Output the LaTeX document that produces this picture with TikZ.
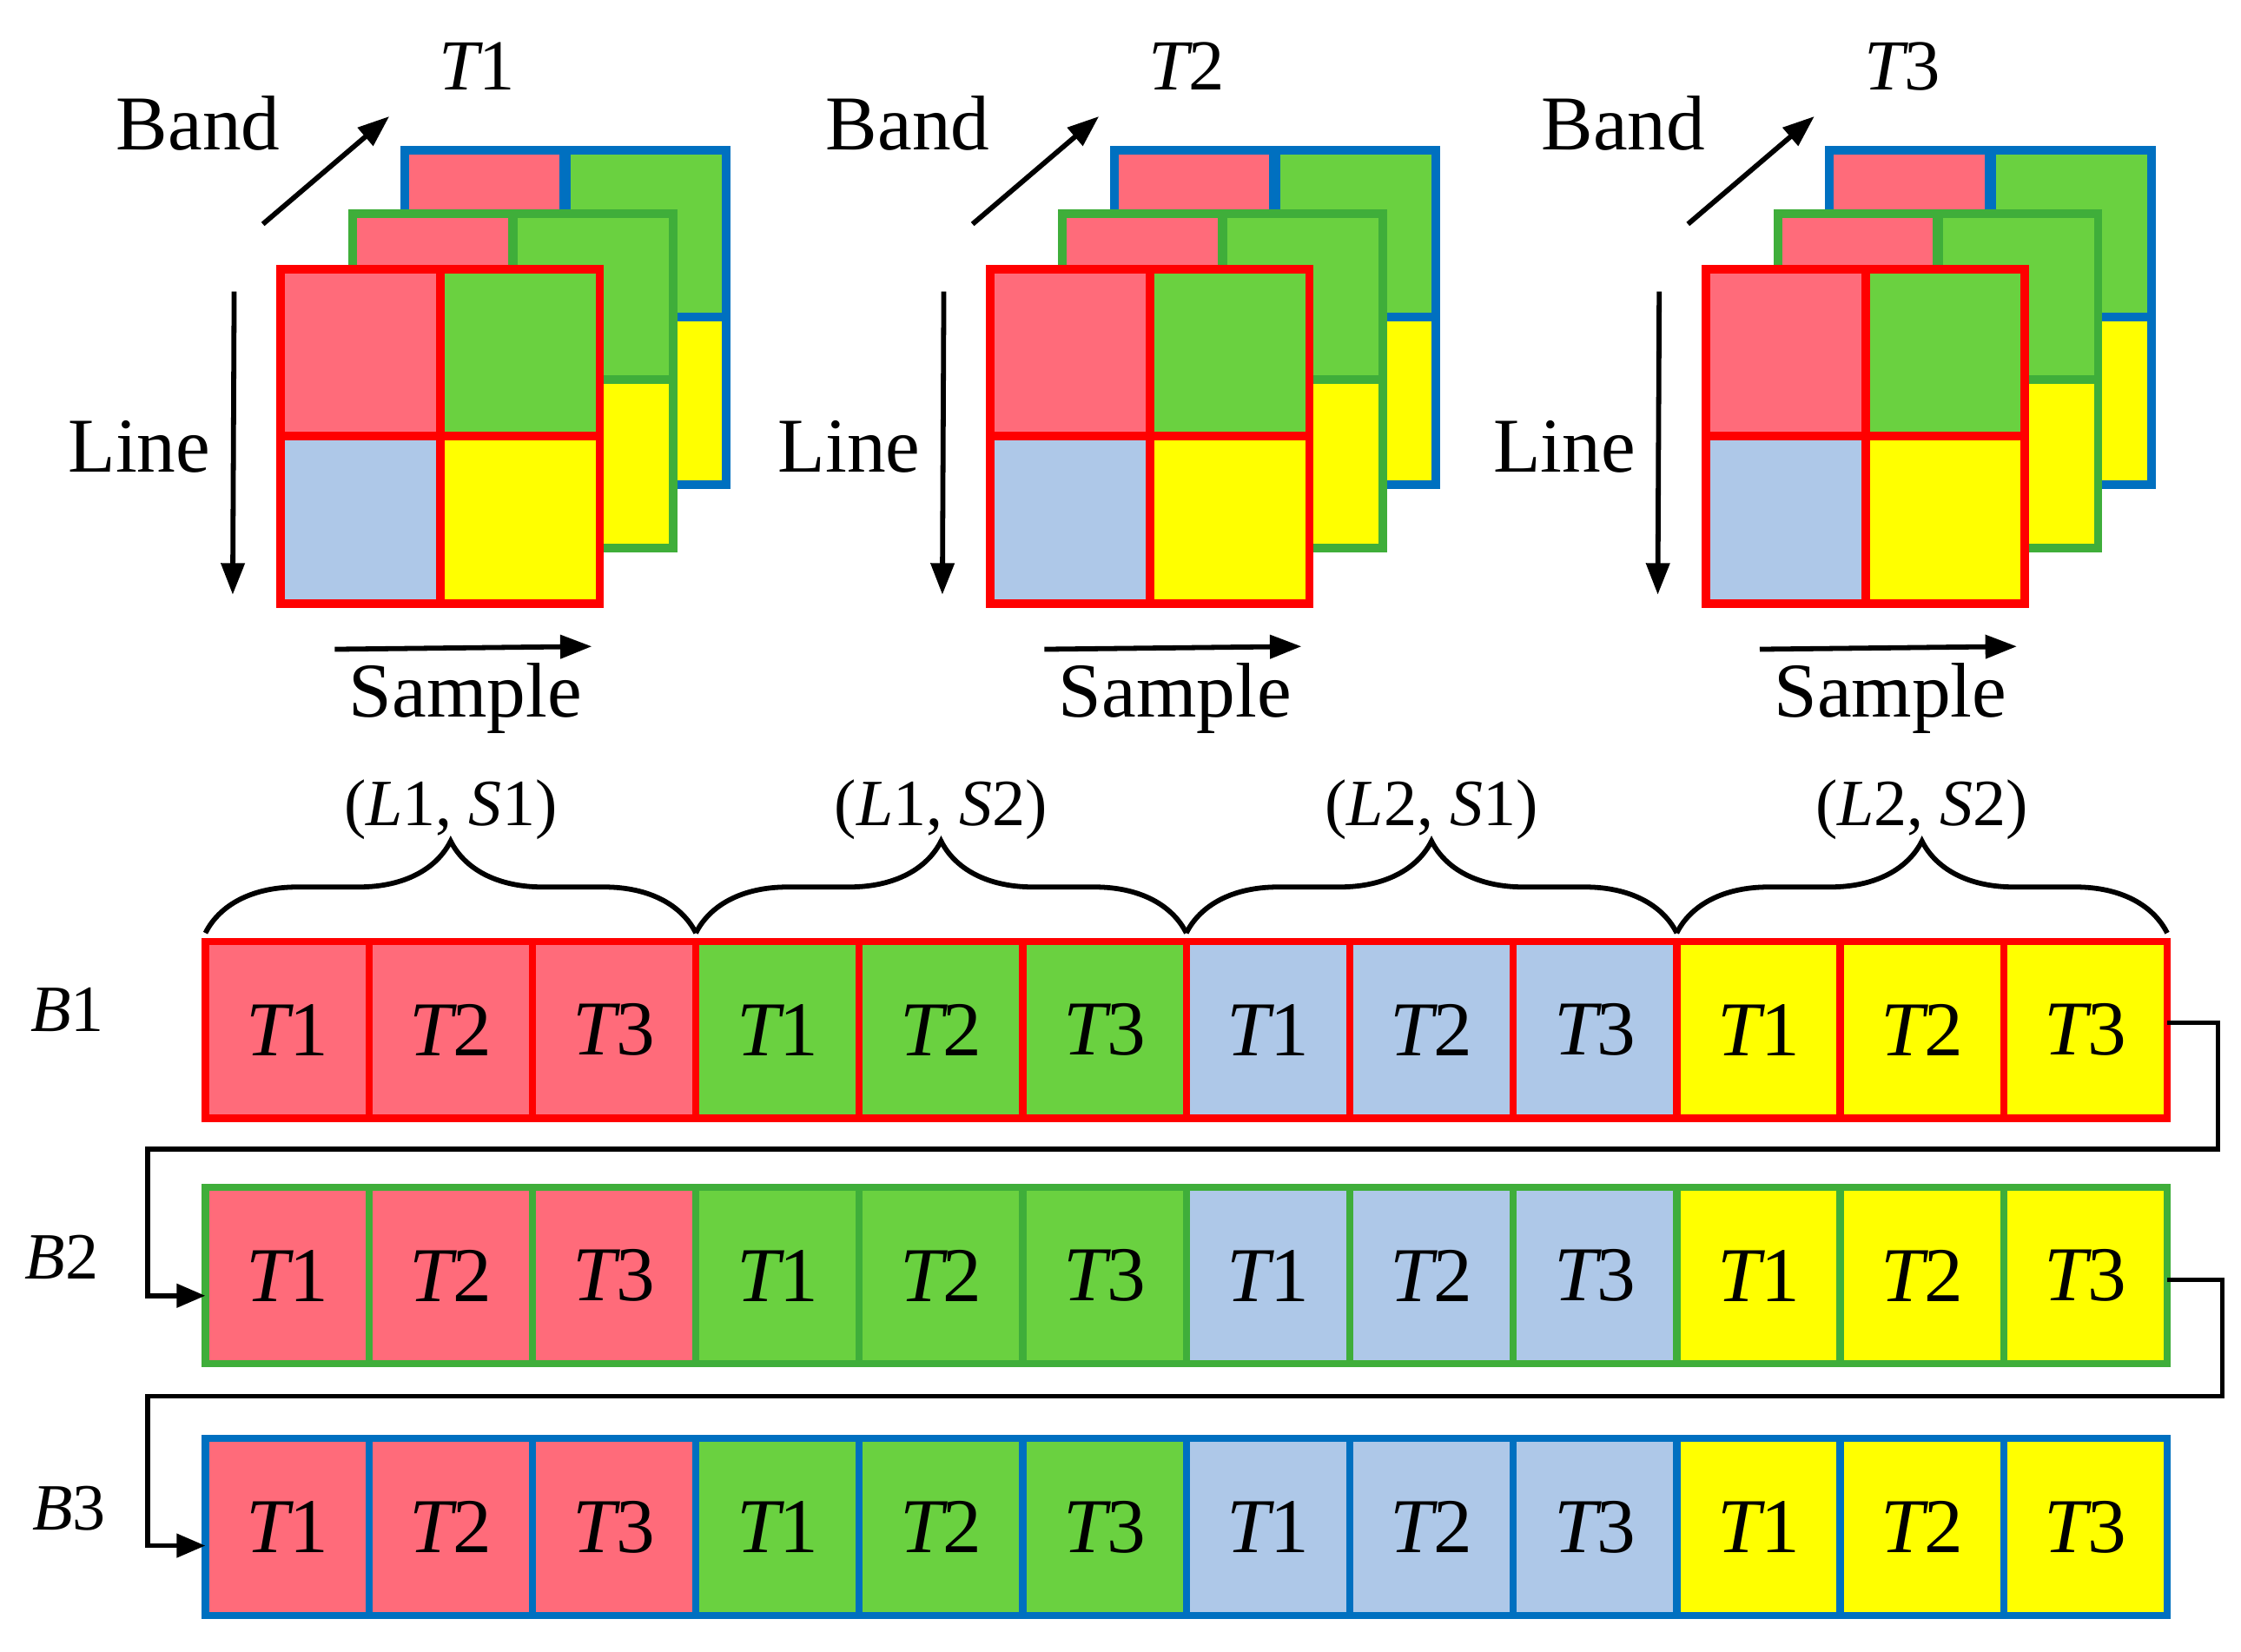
\documentclass[tikz,border=0pt]{standalone}
\usepackage{fontspec}
\setmainfont{Liberation Serif}
\usetikzlibrary{arrows.meta,decorations.pathreplacing,calc}
\definecolor{cpink}{HTML}{FF6B7A}
\definecolor{cgreen}{HTML}{6AD140}
\definecolor{cgreenb}{HTML}{3FAE3A}
\definecolor{cblue}{HTML}{AEC8E8}
\definecolor{cyel}{HTML}{FFFF00}
\definecolor{cred}{HTML}{FF0000}
\definecolor{cbb}{HTML}{0070C0}
\begin{document}
\begin{tikzpicture}[x=1pt,y=-1pt,
  cell/.style={minimum width=113.8pt,minimum height=123pt,inner sep=0,outer sep=0,line width=5pt,font=\fontsize{54}{54}\selectfont\itshape},
  q/.style={minimum width=111pt,minimum height=117pt,inner sep=0,outer sep=0,line width=6pt},
  lbl/.style={font=\fontsize{54}{54}\selectfont},
  blab/.style={font=\fontsize{46}{46}\selectfont\itshape},
  arr/.style={line width=3.5pt,-{Triangle[length=22pt,width=16pt]}},
  conn/.style={line width=3.5pt,-{Triangle[length=20pt,width=16pt]}},
  br/.style={line width=3.5pt,decorate,decoration={brace,amplitude=64pt,aspect=0.5}}]
\useasboundingbox (0,0) rectangle (1560,1150);
% cubes
\foreach \o/\t in {0/1,494/2,992/3}{
  \begin{scope}[xshift=\o pt]
  \node[q,fill=cpink,draw=cbb] (k\t a1) at (337,163) {};
  \node[q,fill=cgreen,draw=cbb] (k\t a2) at (450,163) {};
  \node[q,fill=cblue,draw=cbb] (k\t a3) at (337,279) {};
  \node[q,fill=cyel,draw=cbb] (k\t a4) at (450,279) {};
  \node[q,fill=cpink,draw=cgreenb] (k\t b1) at (301,207) {};
  \node[q,fill=cgreen,draw=cgreenb] (k\t b2) at (413,207) {};
  \node[q,fill=cblue,draw=cgreenb] (k\t b3) at (301,323) {};
  \node[q,fill=cyel,draw=cgreenb] (k\t b4) at (413,323) {};
  \node[q,fill=cpink,draw=cred] (k\t c1) at (251,246) {};
  \node[q,fill=cgreen,draw=cred] (k\t c2) at (362,246) {};
  \node[q,fill=cblue,draw=cred] (k\t c3) at (251,362) {};
  \node[q,fill=cyel,draw=cred] (k\t c4) at (362,362) {};
  \coordinate (ls\t) at (163,203); \coordinate (le\t) at (162,414);
  \coordinate (bs\t) at (183,156); \coordinate (be\t) at (271,81);
  \coordinate (ss\t) at (233,452); \coordinate (se\t) at (412,450);
  \draw[arr] (ls\t) -- (le\t);
  \draw[arr] (bs\t) -- (be\t);
  \draw[arr] (ss\t) -- (se\t);
  \node[lbl] (line\t) at (97,311) {Line};
  \node[lbl] (band\t) at (138,86) {Band};
  \node[lbl] (samp\t) at (324,486) {Sample};
  \node[font=\fontsize{50}{50}\selectfont\itshape] (tt\t) at (332,46) {T\upshape\t};
  \end{scope}
}
% rows
\foreach \r/\y/\bc in {1/717/cred,2/888/cgreenb,3/1063/cbb}{
  \foreach \g/\fc in {0/cpink,1/cgreen,2/cblue,3/cyel}{
    \foreach \t in {1,2,3}{
      \pgfmathsetmacro{\xx}{143+56.9+113.8*(\g*3+\t-1)}
      \node[cell,fill=\fc,draw=\bc] (r\r g\g t\t) at (\xx,\y) {T\upshape\t};
    }
  }
}
\node[blab] (B1) at (47,703) {B\upshape1};
\node[blab] (B2) at (43,875) {B\upshape2};
\node[blab] (B3) at (48,1050) {B\upshape3};
% braces
\foreach \g/\txt in {0/{(\textit{L}1, \textit{S}1)},1/{(\textit{L}1, \textit{S}2)},2/{(\textit{L}2, \textit{S}1)},3/{(\textit{L}2, \textit{S}2)}}{
  \draw[br] ($(r1g\g t1.north west)+(0,-6)$) coordinate (bl\g) -- ($(r1g\g t3.north east)+(0,-6)$) coordinate (brr\g);
  \node[font=\fontsize{46}{46}\selectfont] (bt\g) at ($(r1g\g t2.north)+(0,-92)$) {\txt};
}
% connectors
\coordinate (c1a) at (1544,800);
\coordinate (c1b) at (103,800);
\coordinate (c2a) at (1547,972);
\coordinate (c2b) at (103,972);
\draw[conn] ([yshift=5pt]r1g3t3.east) -| (c1a) -- (c1b) |- ([yshift=-14pt]r2g0t1.west);
\draw[conn] ([yshift=-3pt]r2g3t3.east) -| (c2a) -- (c2b) |- ([yshift=-13pt]r3g0t1.west);
\end{tikzpicture}
\end{document}
